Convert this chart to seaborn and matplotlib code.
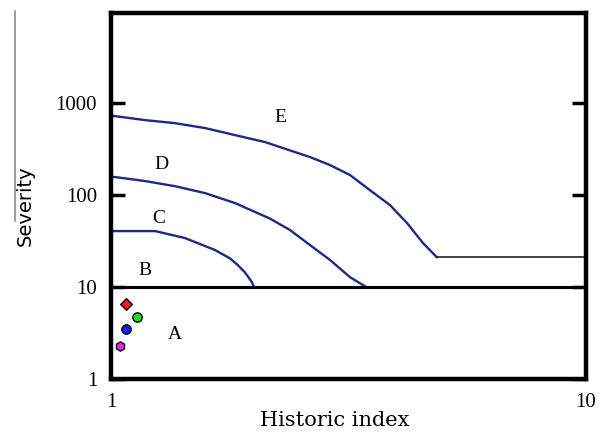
import pandas as pd
import seaborn as sns
import matplotlib.pyplot as plt
from matplotlib.lines import Line2D

# Curves (historic index, severity)
e_x = [1.0, 1.02, 1.18, 1.363, 1.578, 1.824, 2.110, 2.624, 2.891,
       3.186, 3.510, 3.866, 4.201, 4.538, 4.857]
e_y = [725, 722, 653, 606, 535, 449, 377, 259, 212,
       165, 113, 77.9, 49.6, 30.1, 21.0]
d_x = [1.0, 1.02, 1.18, 1.363, 1.578, 1.824, 2.161, 2.381, 2.624,
       2.891, 3.186, 3.393, 3.45]
d_y = [158, 157, 142, 125, 105, 81.9, 55.5, 41.7, 28.6,
       19.7, 12.8, 10.5, 10]
c_x = [1.0, 1.238, 1.431, 1.655, 1.780, 1.850, 1.915, 1.980, 2.0]
c_y = [40.6, 40.6, 34.1, 25.3, 20.5, 17.3, 14.4, 11.3, 10]

# horizontal levels
b_level = 10
e_floor = 21.0

# group A points
a_x = [1.075, 1.134, 1.075, 1.045]
a_y = [6.5, 4.7, 3.5, 2.28]
a_colors = ['#ff1a1a', '#22dd22', '#1a1aee', '#ee22ee']
a_markers = ['D', 'o', 'o', 'h']

labels = ['E', 'D', 'C', 'B', 'A']
label_x = [2.27, 1.28, 1.26, 1.18, 1.36]
label_y = [705, 217, 56, 15.3, 3.08]

sns.set_style("white")
plt.rcParams['font.family'] = ['Liberation Serif', 'DejaVu Serif']
plt.rcParams['text.color'] = 'black'
plt.rcParams['xtick.color'] = 'black'
plt.rcParams['ytick.color'] = 'black'

fig = plt.figure(figsize=(6.11, 4.33), dpi=100)
ax = fig.add_axes([0.1817, 0.1247, 0.7773, 0.8453])

curve_col = '#1b2a85'
for xs, ys in [(e_x, e_y), (d_x, d_y), (c_x, c_y)]:
    df = pd.DataFrame({'x': xs, 'y': ys})
    sns.lineplot(data=df, x='x', y='y', ax=ax, color=curve_col, lw=1.7, sort=False)

# E tail and B line
ax.plot([e_x[-1], 10], [e_floor, e_floor], color='#222222', lw=1.2)
ax.axhline(b_level, color='black', lw=2.2)

for x, y, c, m in zip(a_x, a_y, a_colors, a_markers):
    ax.scatter([x], [y], color=c, marker=m, s=45 if m != 'D' else 35,
               edgecolor='black', linewidth=1.0, zorder=5)

for t, x, y in zip(labels, label_x, label_y):
    ax.text(x, y, t, fontsize=14, ha='center', va='center')

ax.set_xscale('log')
ax.set_yscale('log')
ax.set_xlim(1, 10)
ax.set_ylim(1, 10 ** 3.98)
ax.set_xticks([1, 10])
ax.set_xticklabels(['1', '10'])
ax.set_yticks([1, 10, 100, 1000])
ax.set_yticklabels(['1', '10', '100', '1000'])
ax.minorticks_off()
ax.tick_params(axis='both', direction='in', length=10, width=2.5,
               labelsize=15, pad=10, right=True, left=True, bottom=False, top=False)
ax.tick_params(axis='x', pad=10)

for sp in ax.spines.values():
    sp.set_linewidth(3.2)
    sp.set_color('black')

ax.set_xlabel('')
ax.set_ylabel('')
fig.text(0.548, 0.03, 'Historic index', fontsize=15, ha='center', va='center',
         family='DejaVu Serif')
fig.text(0.042, 0.525, 'Severity', fontsize=14, ha='center', va='center',
         rotation=90, family='DejaVu Sans')

# thin grey stroke at the far left of the scan
fig.add_artist(Line2D([0.025, 0.025], [0.49, 0.975], color='#888888', lw=1.2))

fig.savefig('out.png', dpi=100)
